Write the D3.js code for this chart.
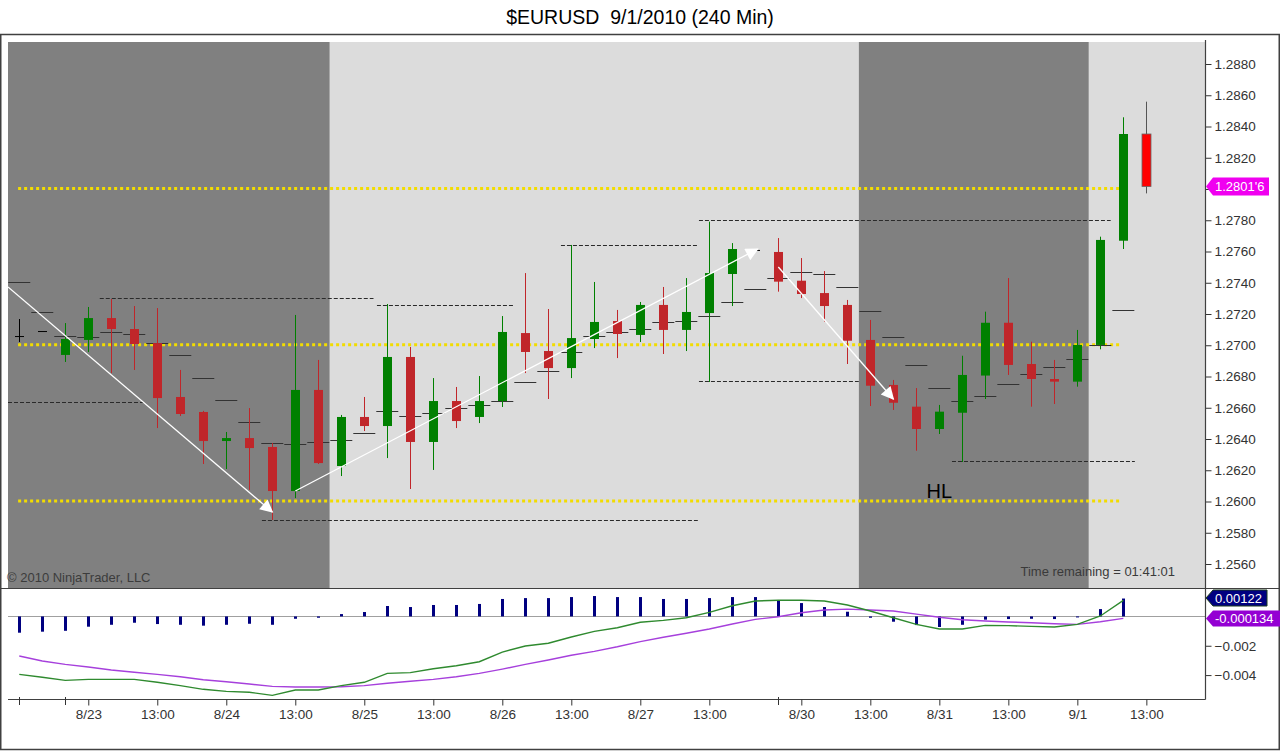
<!DOCTYPE html>
<html>
<head>
<meta charset="utf-8">
<script src="https://cdn.jsdelivr.net/npm/d3@7"></script>
<style>
  body { margin: 0; background: #fff; }
  svg { display: block; font-family: Arial, "Liberation Sans", sans-serif; }
</style>
</head>
<body>
<svg id="chart"></svg>
<script>
// 240 min bars, 8/22 evening .. 9/1 (index = bar number)
const opens  = [1.27059, 1.27091, 1.26938, 1.27034, 1.27174, 1.27104, 1.27014, 1.26669, 1.26573, 1.26387,
                1.26406, 1.26349, 1.26067, 1.26714, 1.26227, 1.26541, 1.26483, 1.26925, 1.26381, 1.26643,
                1.26541, 1.26643, 1.27078, 1.26963, 1.26854, 1.27040, 1.27155, 1.27066, 1.27258, 1.27098,
                1.27206, 1.27456, 1.27610, 1.27597, 1.27413, 1.27334, 1.27258, 1.27034, 1.26746, 1.26607,
                1.26464, 1.26568, 1.26806, 1.27144, 1.26880, 1.26784, 1.26767, 1.27002, 1.27669, 1.28352];
const highs  = [1.27168, 1.27091, 1.27142, 1.27245, 1.27296, 1.27251, 1.27238, 1.26842, 1.26580, 1.26445,
                1.26598, 1.26374, 1.27194, 1.26906, 1.26554, 1.26669, 1.27264, 1.26989, 1.26790, 1.26733,
                1.26803, 1.27187, 1.27462, 1.27232, 1.27642, 1.27405, 1.27226, 1.27277, 1.27373, 1.27430,
                1.27791, 1.27654, 1.27610, 1.27686, 1.27558, 1.27475, 1.27290, 1.27162, 1.26778, 1.26726,
                1.26618, 1.26933, 1.27215, 1.27430, 1.27023, 1.26906, 1.27098, 1.27695, 1.28459, 1.28559];
const lows   = [1.27021, 1.27091, 1.26893, 1.26957, 1.26822, 1.26842, 1.26470, 1.26547, 1.26240, 1.26208,
                1.26074, 1.25882, 1.26022, 1.26240, 1.26163, 1.26451, 1.26278, 1.26080, 1.26202, 1.26470,
                1.26502, 1.26605, 1.26822, 1.26656, 1.26790, 1.26982, 1.26918, 1.27021, 1.26944, 1.26963,
                1.26765, 1.27251, 1.27610, 1.27343, 1.27302, 1.27151, 1.26880, 1.26611, 1.26586, 1.26325,
                1.26432, 1.26253, 1.26656, 1.26810, 1.26607, 1.26624, 1.26735, 1.26974, 1.27616, 1.27972];
const closes = [1.27059, 1.27091, 1.27040, 1.27174, 1.27104, 1.27008, 1.26662, 1.26560, 1.26387, 1.26406,
                1.26342, 1.26067, 1.26714, 1.26246, 1.26541, 1.26483, 1.26925, 1.26381, 1.26643, 1.26515,
                1.26643, 1.27085, 1.26957, 1.26854, 1.27046, 1.27149, 1.27072, 1.27258, 1.27098, 1.27213,
                1.27462, 1.27616, 1.27610, 1.27407, 1.27328, 1.27251, 1.27029, 1.26741, 1.26632, 1.26464,
                1.26575, 1.26810, 1.27144, 1.26874, 1.26784, 1.26767, 1.27002, 1.27674, 1.28352, 1.28016];

// hash-style average plotted on the price panel
const hashValues = [1.27403, 1.27211, 1.27059, 1.27051, 1.27085, 1.27072, 1.27014, 1.26936, 1.26790, 1.26650,
                    1.26507, 1.26374, 1.26368, 1.26379, 1.26392, 1.26438, 1.26577, 1.26545, 1.26565, 1.26597,
                    1.26618, 1.26641, 1.26763, 1.26833, 1.26955, 1.27057, 1.27083, 1.27102, 1.27147, 1.27155,
                    1.27185, 1.27275, 1.27358, 1.27428, 1.27467, 1.27454, 1.27371, 1.27219, 1.27051, 1.26872,
                    1.26725, 1.26641, 1.26673, 1.26750, 1.26814, 1.26859, 1.26910, 1.27000, 1.27224, null];

// MACD panel
const macdLine = [-0.00395, -0.00415, -0.00436, -0.00429, -0.00429, -0.00429, -0.00449, -0.00472, -0.00497, -0.00511,
                  -0.00517, -0.00538, -0.00502, -0.00502, -0.00472, -0.00449, -0.00388, -0.00383, -0.00357, -0.00336,
                  -0.00309, -0.00243, -0.00202, -0.00183, -0.00140, -0.00102, -0.00077, -0.00040, -0.00027, -0.00009,
                   0.00028,  0.00073,  0.00105,  0.00110,  0.00110,  0.00105,  0.00078,  0.00037, -0.00009, -0.00054,
                  -0.00086, -0.00086, -0.00061, -0.00063, -0.00068, -0.00072, -0.00054,  0.00003,  0.00109];
const macdAvg  = [-0.00270, -0.00304, -0.00327, -0.00345, -0.00365, -0.00381, -0.00395, -0.00411, -0.00432, -0.00445,
                  -0.00461, -0.00477, -0.00481, -0.00481, -0.00479, -0.00472, -0.00456, -0.00442, -0.00429, -0.00411,
                  -0.00388, -0.00359, -0.00327, -0.00297, -0.00265, -0.00238, -0.00207, -0.00172, -0.00142, -0.00115,
                  -0.00086, -0.00052, -0.00020, -0.00002,  0.00025,  0.00044,  0.00050,  0.00044,  0.00037,  0.00016,
                  -0.00006, -0.00023, -0.00031, -0.00038, -0.00043, -0.00050, -0.00054, -0.00036, -0.000134];
const macdDiff = [-0.00111, -0.00104, -0.00098, -0.00070, -0.00057, -0.00043, -0.00052, -0.00057, -0.00063, -0.00057,
                  -0.00050, -0.00057, -0.00016, -0.00009,  0.00016,  0.00030,  0.00071,  0.00064,  0.00078,  0.00078,
                   0.00085,  0.00119,  0.00125,  0.00125,  0.00132,  0.00139,  0.00132,  0.00132,  0.00119,  0.00119,
                   0.00125,  0.00132,  0.00132,  0.00112,  0.00091,  0.00064,  0.00032, -0.00009, -0.00036, -0.00059,
                  -0.00072, -0.00057, -0.00022, -0.00018, -0.00016, -0.00018, -0.00002,  0.00050,  0.00122];

// session shading (bar index ranges)
const shadeFrom  = [-0.49, 13.5, 36.5, 46.5];
const shadeTo    = [13.5, 36.5, 46.5, 51.55];
const shadeColor = ['#808080', '#dcdcdc', '#808080', '#dcdcdc'];

// swing high / low lines
const swingPrice = [1.2730, 1.2726, 1.2764, 1.2664, 1.2588, 1.2677, 1.2780, 1.2626];
const swingFrom  = [3.5, 15.55, 23.55, -0.49, 10.55, 29.55, 29.55, 40.55];
const swingTo    = [15.4, 21.5, 29.5, 5.4, 29.5, 36.5, 47.45, 48.5];

// horizontal yellow levels
const levelPrice = [1.2800, 1.2700, 1.2600];
const levelFrom = -0.05, levelTo = 47.9;

// drawn arrows [bar, price]
const arrowStart = [[-0.49, 1.27373], [12, 1.26067], [33, 1.27501]];
const arrowEnd   = [[11, 1.25933], [32.1, 1.27616], [38, 1.26656]];

const priceTicks = [1.2880, 1.2860, 1.2840, 1.2820, 1.2800, 1.2780, 1.2760, 1.2740, 1.2720,
                    1.2700, 1.2680, 1.2660, 1.2640, 1.2620, 1.2600, 1.2580, 1.2560];
const macdTicks = [-0.002, -0.004];
const xTickIdx = [3, 6, 9, 12, 15, 18, 21, 24, 27, 30, 34, 37, 40, 43, 46, 49];
const xTickLabels = ['8/23', '13:00', '8/24', '13:00', '8/25', '13:00', '8/26', '13:00',
                     '8/27', '13:00', '8/30', '13:00', '8/31', '13:00', '9/1', '13:00'];
const xMinorIdx = [0, 2, 33];

const W = 1280, H = 751;
const plotL = 8, plotR = 1205, priceTop = 42, priceBot = 588, macdTop = 589, macdBot = 699;
const lastBar = closes.length - 1;

const svg = d3.select('#chart').attr('width', W).attr('height', H);

const x = d3.scaleLinear().domain([-0.49, 51.55]).range([plotL, plotR]);
const y = d3.scaleLinear().domain([1.254464, 1.289408]).range([priceBot, priceTop]);
const ym = d3.scaleLinear().domain([-0.00563, 0.00187]).range([macdBot, macdTop]);

// clip for the price panel
svg.append('clipPath').attr('id', 'pclip')
  .append('rect').attr('x', plotL).attr('y', priceTop).attr('width', plotR - plotL).attr('height', priceBot - priceTop);

// title (double space kept)
svg.append('text')
  .attr('x', 640).attr('y', 24)
  .attr('text-anchor', 'middle')
  .style('white-space', 'pre')
  .style('font-size', '19.5px').style('fill', '#000')
  .text('$EURUSD  9/1/2010 (240 Min)');

// outer frame
svg.append('rect')
  .attr('x', 0.75).attr('y', 34.5).attr('width', W - 1.5).attr('height', H - 36)
  .attr('fill', 'none').attr('stroke', '#404040').attr('stroke-width', 1.5);

const pricePanel = svg.append('g').attr('clip-path', 'url(#pclip)');

// shading
pricePanel.selectAll('.shade')
  .data(shadeFrom)
  .enter()
  .append('rect')
  .attr('x', (d) => x(d))
  .attr('y', priceTop)
  .attr('width', (d, i) => x(shadeTo[i]) - x(d))
  .attr('height', priceBot - priceTop)
  .attr('fill', (d, i) => shadeColor[i]);

// swing lines
pricePanel.selectAll('.swing')
  .data(swingPrice)
  .enter()
  .append('line')
  .attr('x1', (d, i) => x(swingFrom[i]))
  .attr('x2', (d, i) => x(swingTo[i]))
  .attr('y1', (d) => Math.round(y(d)) + 0.5)
  .attr('y2', (d) => Math.round(y(d)) + 0.5)
  .attr('stroke', '#2a2a2a')
  .attr('stroke-width', 1)
  .attr('stroke-dasharray', '4,2');

// yellow levels
pricePanel.selectAll('.level')
  .data(levelPrice)
  .enter()
  .append('line')
  .attr('x1', x(levelFrom))
  .attr('x2', x(levelTo))
  .attr('y1', (d) => y(d) - 0.5)
  .attr('y2', (d) => y(d) - 0.5)
  .attr('stroke', '#f2dc00')
  .attr('stroke-width', 3)
  .attr('stroke-dasharray', '3,3');

// hash segments
const hashIdx = d3.range(hashValues.length).filter((i) => hashValues[i] !== null);
pricePanel.selectAll('.hash')
  .data(hashIdx)
  .enter()
  .append('line')
  .attr('x1', (i) => x(i) - 11)
  .attr('x2', (i) => x(i) + 11)
  .attr('y1', (i) => Math.round(y(hashValues[i])) + 0.5)
  .attr('y2', (i) => Math.round(y(hashValues[i])) + 0.5)
  .attr('stroke', '#333')
  .attr('stroke-width', 1);

// candles
const candleColor = (i) => {
  if (opens[i] === closes[i]) return '#000';
  if (closes[i] > opens[i]) return '#008000';
  return i === lastBar ? '#ff0000' : '#c0262a';
};

const candle = pricePanel.selectAll('.candle')
  .data(d3.range(opens.length))
  .enter()
  .append('g')
  .attr('class', 'candle');

candle.append('line')
  .attr('x1', (i) => Math.round(x(i)) + 0.5)
  .attr('x2', (i) => Math.round(x(i)) + 0.5)
  .attr('y1', (i) => y(highs[i]))
  .attr('y2', (i) => y(lows[i]))
  .attr('stroke', (i) => (i === lastBar ? '#555' : candleColor(i)))
  .attr('stroke-width', 1);

candle.append('rect')
  .attr('x', (i) => Math.round(x(i)) - 4)
  .attr('y', (i) => y(Math.max(opens[i], closes[i])))
  .attr('width', 9)
  .attr('height', (i) => Math.max(1, y(Math.min(opens[i], closes[i])) - y(Math.max(opens[i], closes[i]))))
  .attr('fill', (i) => candleColor(i))
  .attr('stroke', (i) => (i === lastBar ? '#666' : 'none'))
  .attr('stroke-width', 0.8);

// arrows
const defs = svg.append('defs');
defs.append('marker')
  .attr('id', 'ahead')
  .attr('viewBox', '0 0 10 10')
  .attr('refX', 9).attr('refY', 5)
  .attr('markerUnits', 'userSpaceOnUse')
  .attr('markerWidth', 18).attr('markerHeight', 13)
  .attr('orient', 'auto')
  .append('path')
  .attr('d', 'M0,0 L10,5 L0,10 z')
  .attr('fill', '#fff');

pricePanel.selectAll('.arrow')
  .data(arrowStart)
  .enter()
  .append('line')
  .attr('x1', (d) => x(d[0]))
  .attr('y1', (d) => y(d[1]))
  .attr('x2', (d, i) => x(arrowEnd[i][0]))
  .attr('y2', (d, i) => y(arrowEnd[i][1]))
  .attr('stroke', '#fff')
  .attr('stroke-width', 1.3)
  .attr('marker-end', 'url(#ahead)');

// HL note
pricePanel.append('text')
  .attr('x', x(40))
  .attr('y', y(1.2607))
  .attr('dy', '0.36em')
  .attr('text-anchor', 'middle')
  .style('font-size', '20px')
  .style('fill', '#000')
  .text('HL');

// panel texts
svg.append('text')
  .attr('x', 7).attr('y', 582)
  .style('font-size', '13px').style('fill', '#3c3c3c')
  .text('\u00a9 2010 NinjaTrader, LLC');

svg.append('text')
  .attr('x', 1175).attr('y', 576)
  .attr('text-anchor', 'end')
  .style('font-size', '13px').style('fill', '#3a3a3a')
  .text('Time remaining = 01:41:01');

// price axis (label under the last-price tag is hidden, as in the original)
const tagPrice = 1.2800;
const yAxis = svg.append('g')
  .attr('transform', `translate(${plotR + 0.5},0)`)
  .call(d3.axisRight(y).tickValues(priceTicks)
    .tickFormat((d) => (d === tagPrice ? '' : d3.format('.4f')(d)))
    .tickSize(6).tickPadding(3));
yAxis.select('.domain').remove();
yAxis.selectAll('line').attr('stroke', '#333');
yAxis.selectAll('text').style('font-size', '13.5px').style('fill', '#333').style('font-family', 'Arial, "Liberation Sans", sans-serif');

// MACD panel
svg.append('rect')
  .attr('x', plotL).attr('y', macdTop)
  .attr('width', plotR - plotL).attr('height', macdBot - macdTop)
  .attr('fill', '#fff');

svg.append('line')
  .attr('x1', plotL).attr('x2', plotR)
  .attr('y1', Math.round(ym(0)) + 0.5).attr('y2', Math.round(ym(0)) + 0.5)
  .attr('stroke', '#a0a0a0').attr('stroke-width', 1);

svg.selectAll('.diff')
  .data(macdDiff)
  .enter()
  .append('rect')
  .attr('x', (d, i) => Math.round(x(i)) - 1)
  .attr('y', (d) => Math.min(ym(d), ym(0)))
  .attr('width', 3)
  .attr('height', (d) => Math.max(1, Math.abs(ym(d) - ym(0))))
  .attr('fill', '#000080');

const mline = d3.line()
  .x((d, i) => x(i))
  .y((d) => ym(d));

svg.append('path')
  .datum(macdAvg)
  .attr('d', mline)
  .attr('fill', 'none')
  .attr('stroke', '#a640dc')
  .attr('stroke-width', 1.4);

svg.append('path')
  .datum(macdLine)
  .attr('d', mline)
  .attr('fill', 'none')
  .attr('stroke', '#2f8a2f')
  .attr('stroke-width', 1.4);

const mAxis = svg.append('g')
  .attr('transform', `translate(${plotR + 0.5},0)`)
  .call(d3.axisRight(ym).tickValues(macdTicks).tickFormat(d3.format('.3f')).tickSize(6).tickPadding(3));
mAxis.select('.domain').remove();
mAxis.selectAll('line').attr('stroke', '#333');
mAxis.selectAll('text').style('font-size', '13.5px').style('fill', '#333').style('font-family', 'Arial, "Liberation Sans", sans-serif');

// panel borders
svg.append('line')
  .attr('x1', 0).attr('x2', W).attr('y1', 588.5).attr('y2', 588.5)
  .attr('stroke', '#404040').attr('stroke-width', 1.2);
svg.append('line')
  .attr('x1', plotL).attr('x2', plotR + 0.5).attr('y1', macdBot + 0.5).attr('y2', macdBot + 0.5)
  .attr('stroke', '#404040').attr('stroke-width', 1.2);
svg.append('line')
  .attr('x1', plotR + 0.5).attr('x2', plotR + 0.5).attr('y1', 40).attr('y2', macdBot + 0.5)
  .attr('stroke', '#404040').attr('stroke-width', 1.2);

// x axis
const xAxis = svg.append('g')
  .attr('transform', `translate(0,${macdBot + 0.5})`)
  .call(d3.axisBottom(x).tickValues(xTickIdx).tickFormat((d, i) => xTickLabels[i]).tickSize(6).tickPadding(4));
xAxis.select('.domain').remove();
xAxis.selectAll('line').attr('stroke', '#333');
xAxis.selectAll('text').style('font-size', '13.5px').style('fill', '#333').style('font-family', 'Arial, "Liberation Sans", sans-serif');

svg.selectAll('.minor')
  .data(xMinorIdx)
  .enter()
  .append('line')
  .attr('x1', (d) => Math.round(x(d)) + 0.5)
  .attr('x2', (d) => Math.round(x(d)) + 0.5)
  .attr('y1', macdBot - 2)
  .attr('y2', macdBot + 6)
  .attr('stroke', '#333');

// value tags on the right
const tags = [
  { v: closes[lastBar], label: "1.2801'6", fill: '#f000f0', scale: y, w: 63 },
  { v: macdDiff[macdDiff.length - 1], label: '0.00122', fill: '#000080', scale: ym, w: 61 },
  { v: macdAvg[macdAvg.length - 1], label: '-0.000134', fill: '#9400d3', scale: ym, w: 74 }
];
tags.forEach((t, k) => {
  let cy = t.scale(t.v);
  if (k === 1) cy = Math.min(cy, 598);
  if (k === 2) cy = Math.max(cy, 617);
  const x0 = plotR + 1, h = k === 0 ? 18 : 16;
  const g = svg.append('g');
  g.append('path')
    .attr('d', `M${x0},${cy} L${x0 + 7},${cy - h / 2} L${x0 + t.w},${cy - h / 2} L${x0 + t.w},${cy + h / 2} L${x0 + 7},${cy + h / 2} Z`)
    .attr('fill', t.fill)
    .attr('stroke', k === 1 ? '#1d3d1d' : 'none');
  g.append('text')
    .attr('x', x0 + 9).attr('y', cy).attr('dy', '0.36em')
    .style('font-size', '13px').style('fill', '#fff')
    .text(t.label);
});
</script>
</body>
</html>
